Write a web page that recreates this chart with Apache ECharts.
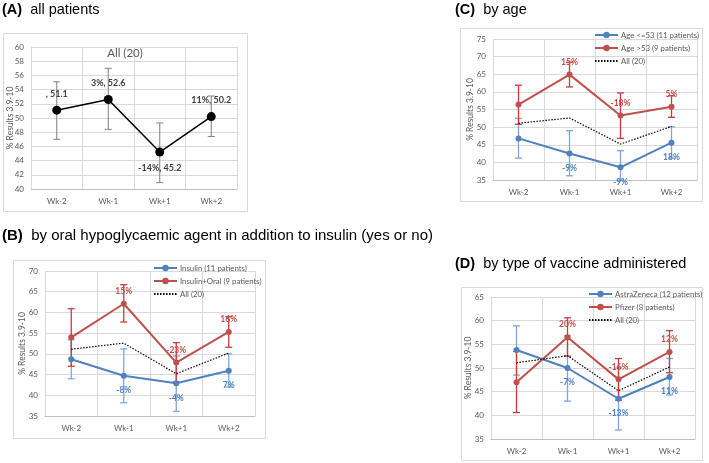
<!DOCTYPE html>
<html><head><meta charset="utf-8">
<script src="https://cdn.jsdelivr.net/npm/echarts@6/dist/echarts.min.js"></script>
<style>html,body{margin:0;padding:0;background:#fff}#c{width:709px;height:463px}</style>
</head><body><div id="c"></div>
<script>
const categories = ['Wk-2', 'Wk-1', 'Wk+1', 'Wk+2'];
const yAxisTitle = '% Results 3.9-10';

// Panel A: all patients
const allMean = [51.1, 52.6, 45.2, 50.2];
const allLow = [47.0, 48.4, 40.9, 47.4];
const allHigh = [55.1, 57.0, 49.3, 53.1];
const allLabels = [', 51.1', '3%, 52.6', '-14%, 45.2', '11%, 50.2'];

// Panel B: insulin vs insulin+oral
const insMean = [48.7, 44.7, 42.9, 45.9];
const insLow = [44.0, 38.2, 36.1, 42.0];
const insHigh = [53.4, 51.2, 49.5, 50.0];
const insLabels = ['', '-8%', '-4%', '7%'];
const oralMean = [54.0, 62.1, 47.9, 55.3];
const oralLow = [47.0, 57.7, 43.2, 51.6];
const oralHigh = [60.9, 66.7, 52.7, 59.0];
const oralLabels = ['', '15%', '-23%', '16%'];

// Panel C: by age
const youngMean = [46.8, 42.5, 38.6, 45.6];
const youngLow = [41.2, 36.2, 35.0, 41.2];
const youngHigh = [52.5, 49.0, 43.3, 50.1];
const youngLabels = ['', '-9%', '-9%', '18%'];
const oldMean = [56.4, 64.9, 53.3, 55.8];
const oldLow = [50.8, 61.4, 46.8, 52.8];
const oldHigh = [61.9, 68.4, 59.7, 58.9];
const oldLabels = ['', '15%', '-18%', '5%'];

// Panel D: by vaccine
const azMean = [53.8, 50.0, 43.5, 48.1];
const azLow = [48.5, 43.0, 36.9, 44.3];
const azHigh = [58.9, 56.8, 50.0, 52.0];
const azLabels = ['', '-7%', '-13%', '11%'];
const pfMean = [47.0, 56.5, 47.6, 53.4];
const pfLow = [40.6, 52.5, 43.2, 49.0];
const pfHigh = [53.5, 60.6, 52.0, 57.9];
const pfLabels = ['', '20%', '-16%', '12%'];

const BLUE = '#4f81bd', RED = '#c0504d', BLUE_ERR = '#7ea6dc', RED_ERR = '#d0383a';
const GRID = '#d9d9d9', TXT = '#595959';
const FONT = 'Lato';

const chart = echarts.init(document.getElementById('c'), null, {renderer: 'canvas'});

const grids = [
  {left: 31, top: 47, width: 206, height: 142},
  {left: 45, top: 271, width: 210, height: 145},
  {left: 493, top: 39, width: 204, height: 141},
  {left: 491, top: 297, width: 204, height: 142}
];
const yRanges = [[40, 60, 2], [35, 70, 5], [35, 75, 5], [35, 65, 5]];
const nameX = [10, 22, 470, 468];

const xAxes = grids.map((g, i) => ({
  type: 'category', gridIndex: i, data: categories, boundaryGap: true,
  axisLine: {lineStyle: {color: '#bfbfbf'}}, axisTick: {show: false},
  axisLabel: {color: TXT, fontSize: 8, fontFamily: FONT, margin: 8},
  splitLine: {show: true, lineStyle: {color: GRID, width: 1}}
}));
const yAxes = yRanges.map((r, i) => ({
  type: 'value', gridIndex: i, min: r[0], max: r[1], interval: r[2],
  axisLine: {show: false}, axisTick: {show: false},
  axisLabel: {color: TXT, fontSize: 8, fontFamily: FONT, margin: 7},
  splitLine: {show: true, lineStyle: {color: GRID, width: 1}}
}));

function errSeries(idx, low, high, color, w) {
  return {
    type: 'custom', xAxisIndex: idx, yAxisIndex: idx, silent: true, z: 2,
    data: low.map((l, i) => [i, l, high[i]]),
    encode: {x: 0, y: [1, 2]},
    renderItem: (params, api) => {
      const lo = api.coord([api.value(0), api.value(1)]);
      const hi = api.coord([api.value(0), api.value(2)]);
      const c = 3.5;
      const st = {stroke: color, lineWidth: w};
      return {type: 'group', children: [
        {type: 'line', shape: {x1: lo[0], y1: lo[1], x2: hi[0], y2: hi[1]}, style: st},
        {type: 'line', shape: {x1: lo[0] - c, y1: lo[1], x2: lo[0] + c, y2: lo[1]}, style: st},
        {type: 'line', shape: {x1: hi[0] - c, y1: hi[1], x2: hi[0] + c, y2: hi[1]}, style: st}
      ]};
    }
  };
}

function lineSeries(idx, name, vals, labels, color, pos, dist) {
  return {
    type: 'line', name: name, xAxisIndex: idx, yAxisIndex: idx, z: 3,
    data: vals.map((v, i) => ({value: v, label: {position: pos}})),
    symbol: 'circle', symbolSize: 6,
    lineStyle: {color: color, width: 2}, itemStyle: {color: color},
    label: {show: true, distance: dist, color: color, fontSize: 8.5, fontWeight: 'bold', fontFamily: FONT,
      formatter: p => labels[p.dataIndex]}
  };
}

function dotted(idx) {
  return {
    type: 'line', name: 'All (20)', xAxisIndex: idx, yAxisIndex: idx, z: 4,
    data: allMean, symbol: 'none', showSymbol: false,
    lineStyle: {color: '#000', width: 1.2, type: [1.5, 1.5]}, itemStyle: {color: '#000'}
  };
}

const series = [
  // A
  errSeries(0, allLow, allHigh, '#7f7f7f', 1),
  {
    type: 'line', name: 'All', xAxisIndex: 0, yAxisIndex: 0, z: 3,
    data: allMean.map((v, i) => ({value: v, label: {position: i === 2 ? 'bottom' : 'top'}})),
    symbol: 'circle', symbolSize: 9,
    lineStyle: {color: '#000', width: 1.5}, itemStyle: {color: '#000'},
    label: {show: true, distance: 7, color: '#404040', fontSize: 9, fontWeight: 'bold', fontFamily: FONT,
      formatter: p => allLabels[p.dataIndex]}
  },
  // B
  errSeries(1, insLow, insHigh, BLUE_ERR, 1.3),
  lineSeries(1, 'Insulin (11 patients)', insMean, insLabels, BLUE, 'bottom', 7),
  errSeries(1, oralLow, oralHigh, RED_ERR, 1.3),
  lineSeries(1, 'Insulin+Oral (9 patients)', oralMean, oralLabels, RED, 'top', 5),
  dotted(1),
  // C
  errSeries(2, youngLow, youngHigh, BLUE_ERR, 1.3),
  lineSeries(2, 'Age <=53 (11 patients)', youngMean, youngLabels, BLUE, 'bottom', 7),
  errSeries(2, oldLow, oldHigh, RED_ERR, 1.3),
  lineSeries(2, 'Age >53 (9 patients)', oldMean, oldLabels, RED, 'top', 5),
  dotted(2),
  // D
  errSeries(3, azLow, azHigh, BLUE_ERR, 1.3),
  lineSeries(3, 'AstraZeneca (12 patients)', azMean, azLabels, BLUE, 'bottom', 7),
  errSeries(3, pfLow, pfHigh, RED_ERR, 1.3),
  lineSeries(3, 'Pfizer (8 patients)', pfMean, pfLabels, RED, 'top', 5),
  dotted(3)
];

function legend(names, left, top) {
  return {
    data: [names[0], names[1], {name: names[2], itemStyle: {opacity: 0}}],
    left: left, top: top, orient: 'vertical', padding: 0, itemGap: 5,
    itemWidth: 23, itemHeight: 8, selectedMode: false,
    textStyle: {color: TXT, fontSize: 7.8, fontFamily: FONT, padding: [0, 0, 0, -2]}
  };
}

const titleStyle = {fontFamily: 'Liberation Sans', fontSize: 14.5, fontWeight: 'normal', color: '#000',
  rich: {b: {fontFamily: 'Liberation Sans', fontSize: 14.5, fontWeight: 'bold', color: '#000'}}};
const titleStyleB = {fontFamily: 'Liberation Sans', fontSize: 15, fontWeight: 'normal', color: '#000',
  rich: {b: {fontFamily: 'Liberation Sans', fontSize: 15, fontWeight: 'bold', color: '#000'}}};

const box = (x, y, w, h) => ({type: 'rect', shape: {x: x, y: y, width: w, height: h}, z: -10,
  style: {fill: '#fff', stroke: '#d9d9d9', lineWidth: 1}});
const yName = (i) => ({type: 'text', x: nameX[i], y: grids[i].top + grids[i].height / 2,
  rotation: Math.PI / 2, z: 10,
  style: {text: yAxisTitle, fill: TXT, fontSize: 8.5, fontFamily: FONT, align: 'center', verticalAlign: 'middle'}});

chart.setOption({
  animation: false,
  backgroundColor: '#fff',
  textStyle: {fontFamily: FONT},
  title: [
    {text: '{b|(A)}  all patients', left: 2, top: 2, padding: 0, textStyle: titleStyle},
    {text: '{b|(B)}  by oral hypoglycaemic agent in addition to insulin (yes or no)', left: 2, top: 228, padding: 0, textStyle: titleStyleB},
    {text: '{b|(C)}  by age', left: 455, top: 2, padding: 0, textStyle: titleStyle},
    {text: '{b|(D)}  by type of vaccine administered', left: 455, top: 256, padding: 0, textStyle: titleStyle},
    {text: 'All (20)', left: 125, top: 47, textAlign: 'center', padding: 0,
      textStyle: {fontFamily: FONT, fontSize: 11.5, fontWeight: 'normal', color: TXT}}
  ],
  graphic: [box(3.5, 33.5, 244, 178), box(13.5, 260.5, 252, 178), box(460.5, 28.5, 242, 173), box(461.5, 287.5, 241, 173),
    yName(0), yName(1), yName(2), yName(3)],
  legend: [
    legend(['Insulin (11 patients)', 'Insulin+Oral (9 patients)', 'All (20)'], 153, 264),
    legend(['Age <=53 (11 patients)', 'Age >53 (9 patients)', 'All (20)'], 594, 31),
    legend(['AstraZeneca (12 patients)', 'Pfizer (8 patients)', 'All (20)'], 588, 290)
  ],
  grid: grids,
  xAxis: xAxes,
  yAxis: yAxes,
  series: series
});
</script></body></html>
